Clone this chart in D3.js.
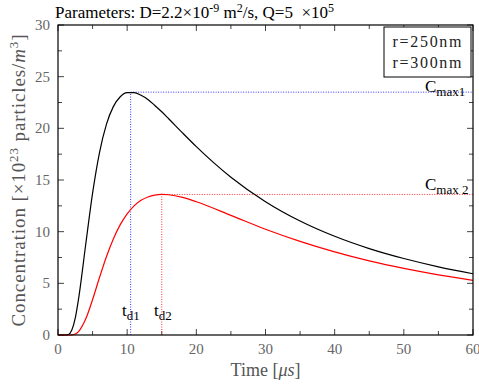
<!DOCTYPE html>
<html><head><meta charset="utf-8">
<script src="https://cdn.jsdelivr.net/npm/d3@7"></script>
<style>body{margin:0;background:#fff}svg{display:block}</style>
</head><body>
<script>
const times = [0,0.5,1,1.5,2,2.5,3,4,5,6,7,8,9,10,11,12,13,14,15,16,18,20,25,30,35,40,45,50,55,60];
const conc250 = [0,0,0,0.05,0.48,1.66,3.62,8.73,13.73,17.66,20.39,22.10,23.06,23.45,23.46,23.20,22.8,22.21,21.6,20.93,19.56,18.23,15.27,12.90,11.03,9.55,8.36,7.40,6.60,5.93];
const conc300 = [0,0,0,0,0.02,0.10,0.36,1.54,3.43,5.56,7.58,9.30,10.68,11.73,12.50,13.03,13.36,13.54,13.60,13.57,13.32,12.89,11.58,10.24,9.06,8.04,7.17,6.44,5.82,5.29];
const seriesNames = ["r=250nm","r=300nm"];
const seriesColors = ["#000000","#ff0000"];
const peakTimes = [10.5, 15];
const peakValues = [23.5, 13.6];
const xTicks = [0,10,20,30,40,50,60];
const yTicks = [0,5,10,15,20,25,30];

const W=479,H=389;
const m={l:58,r:6,t:25,b:54};
const svg=d3.select("body").append("svg").attr("width",W).attr("height",H);
const x=d3.scaleLinear().domain([0,60]).range([m.l,W-m.r]);
const y=d3.scaleLinear().domain([0,30]).range([H-m.b,m.t]);
const font="'Liberation Serif', 'DejaVu Serif', serif";

// ticks (inward, all sides)
const g=svg.append("g").attr("stroke","#444").attr("stroke-width",1);
d3.range(0,60.1,5).forEach(v=>{
  const L = v%10===0?6:4;
  g.append("line").attr("x1",x(v)).attr("x2",x(v)).attr("y1",y(0)).attr("y2",y(0)-L);
  g.append("line").attr("x1",x(v)).attr("x2",x(v)).attr("y1",y(30)).attr("y2",y(30)+L);
});
d3.range(0,30.1,2.5).forEach(v=>{
  const L = v%5===0?6:4;
  g.append("line").attr("y1",y(v)).attr("y2",y(v)).attr("x1",x(0)).attr("x2",x(0)+L);
  g.append("line").attr("y1",y(v)).attr("y2",y(v)).attr("x1",x(60)).attr("x2",x(60)-L);
});

// guide lines
const guideColors=["#3333ff","#ff3333"];
peakTimes.forEach((t,i)=>{
  svg.append("line").attr("x1",x(t)).attr("x2",x(t)).attr("y1",y(0)).attr("y2",y(peakValues[i]))
    .attr("stroke",guideColors[i]).attr("stroke-width",1).attr("stroke-dasharray","1,1.5");
  svg.append("line").attr("x1",x(t)).attr("x2",x(60)).attr("y1",y(peakValues[i])).attr("y2",y(peakValues[i]))
    .attr("stroke",guideColors[i]).attr("stroke-width",1).attr("stroke-dasharray","1,1.5");
});

// curves
const line=d3.line().x(d=>x(d[0])).y(d=>y(d[1])).curve(d3.curveMonotoneX);
[conc250,conc300].forEach((s,i)=>{
  svg.append("path").datum(times.map((t,j)=>[t,s[j]])).attr("d",line)
    .attr("fill","none").attr("stroke",seriesColors[i]).attr("stroke-width",1.2);
});

// frame
svg.append("rect").attr("x",x(0)).attr("y",y(30)).attr("width",x(60)-x(0)).attr("height",y(0)-y(30))
  .attr("fill","none").attr("stroke","#000").attr("stroke-width",1.2);

// tick labels
const tl=svg.append("g").attr("font-family",font).attr("font-size",15).attr("fill","#666");
xTicks.forEach(v=>tl.append("text").attr("x",x(v)).attr("y",y(0)+19).attr("text-anchor","middle").text(v));
yTicks.forEach(v=>tl.append("text").attr("x",x(0)-8).attr("y",y(v)+5).attr("text-anchor","end").text(v));

// axis labels
svg.append("text").attr("x",(x(0)+x(60))/2).attr("y",376).attr("text-anchor","middle")
  .attr("font-family",font).attr("font-size",18).attr("fill","#555")
  .call(t=>{t.append("tspan").text("Time [");t.append("tspan").attr("font-style","italic").text("μs");t.append("tspan").text("]");});
const yl=svg.append("text").attr("transform",`translate(25,${(y(0)+y(30))/2}) rotate(-90)`).attr("text-anchor","middle")
  .attr("font-family",font).attr("font-size",19).attr("fill","#555").attr("letter-spacing",0.9);
yl.append("tspan").text("Concentration [×10");
yl.append("tspan").attr("dy",-7).attr("font-size",13).text("23");
yl.append("tspan").attr("dy",7).text(" particles/");
yl.append("tspan").attr("font-style","italic").text("m");
yl.append("tspan").attr("dy",-7).attr("font-size",13).text("3");
yl.append("tspan").attr("dy",7).text("]");

// title
const tt=svg.append("text").attr("x",55).attr("y",18).attr("font-family",font).attr("font-size",17).attr("fill","#000");
tt.append("tspan").text("Parameters: D=2.2×10");
tt.append("tspan").attr("dy",-6).attr("font-size",12).text("-9");
tt.append("tspan").attr("dy",6).text(" m");
tt.append("tspan").attr("dy",-6).attr("font-size",12).text("2");
tt.append("tspan").attr("dy",6).text("/s, Q=5 \u00a0×10");
tt.append("tspan").attr("dy",-6).attr("font-size",12).text("5");

// legend
svg.append("rect").attr("x",384).attr("y",27).attr("width",87).attr("height",50).attr("fill","#fff").attr("stroke","#000").attr("stroke-width",1);
seriesNames.forEach((n,i)=>svg.append("text").attr("x",427).attr("y",47+i*21).attr("text-anchor","middle")
  .attr("font-family",font).attr("font-size",16).attr("fill","#222").attr("textLength",69).text(n));

// annotations
function sub(xp,yp,main,s){
  const t=svg.append("text").attr("x",xp).attr("y",yp).attr("font-family",font).attr("font-size",17).attr("fill","#000");
  t.append("tspan").text(main);
  t.append("tspan").attr("dy",4).attr("font-size",13).text(s);
}
sub(425,92,"C","max1");
sub(425,190,"C","max 2");
sub(122,316,"t","d1");
sub(154,316,"t","d2");
</script>
</body></html>
